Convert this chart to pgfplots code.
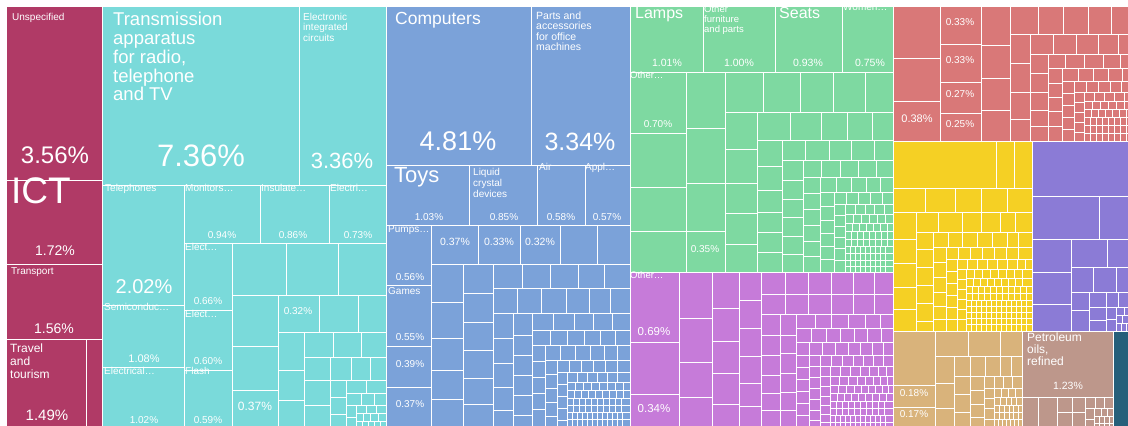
\documentclass[border=0pt]{standalone}
\usepackage{fontspec}
\setmainfont{Liberation Sans}
\usepackage{pgfplots}
\pgfplotsset{compat=1.18}

\definecolor{mar}{HTML}{B03A66}
\definecolor{cya}{HTML}{7ADADA}
\definecolor{blu}{HTML}{7BA2D9}
\definecolor{grn}{HTML}{7ED9A1}
\definecolor{mag}{HTML}{C67BD9}
\definecolor{sal}{HTML}{D97878}
\definecolor{yel}{HTML}{F5D024}
\definecolor{vio}{HTML}{8B7BD6}
\definecolor{tanc}{HTML}{D9B37B}
\definecolor{ros}{HTML}{BD978B}
\definecolor{dtl}{HTML}{265F7A}

% a row of cells between y0 and y1, split at the listed x values
\newcommand\Row[4]{\foreach \cx [remember=\cx as \cpx (initially #3)] in {#4}{%
  \edef\tmp{\noexpand\addplot[cell=\cc] coordinates {(\cpx,#1) (\cx,#1) (\cx,#2) (\cpx,#2)} -- cycle;}\tmp}}
% a column of cells between x0 and x1, split at the listed y values
\newcommand\Col[4]{\foreach \cy [remember=\cy as \cpy (initially #3)] in {#4}{%
  \edef\tmp{\noexpand\addplot[cell=\cc] coordinates {(#1,\cpy) (#2,\cpy) (#2,\cy) (#1,\cy)} -- cycle;}\tmp}}
\newcommand\Lab[4]{\node[anchor=base west, text=white, inner sep=0pt, font=\fontsize{#3}{#3}\selectfont] at (axis cs:#1,#2) {#4};}
\newcommand\Pct[4]{\node[anchor=base, text=white, inner sep=0pt, font=\fontsize{#3}{#3}\selectfont] at (axis cs:#1,#2) {#4};}

\begin{document}
\begin{tikzpicture}[cell/.style={fill=#1, draw=white, line width=1pt}]
\begin{axis}[x=1pt, y=1pt, xmin=0, xmax=1128, ymin=0, ymax=426,
  y dir=reverse, hide axis, clip=true]
\addplot[fill=white, draw=none] coordinates {(0,0) (1128,0) (1128,426) (0,426)} -- cycle;

% services
\def\cc{mar}
\Col{6}{102}{6}{180,264,339}
\Row{339}{430}{6}{86,102}

% electronics
\def\cc{cya}
\Row{6}{185}{102}{299,386}
\Col{102}{184}{185}{305,367,430}
\Row{185}{243}{184}{260,329,386}
\Col{184}{232}{243}{310,370,430}
\Row{243}{295}{232}{286,338,386}
\Col{232}{278}{295}{346,390,430}
\Row{295}{332}{278}{319,358,386}
\Col{278}{304}{332}{370,400,430}
\Row{332}{357}{304}{333,361,386}
\Row{357}{380}{304}{330,351,370,386}
\Col{304}{330}{380}{405,430}
\Col{330}{346}{380}{397,414,430}
\Row{380}{393}{346}{366,386}
\Row{393}{405}{346}{361,374,386}
\Col{346}{356}{405}{417,430}
\Row{405}{413}{356}{366,376,386}
\Row{413}{421}{356}{363,370,378,386}
\Row{421}{430}{356}{362,368,374,380,386}

% machines
\def\cc{blu}
\Row{6}{165}{386}{531,630}
\Row{165}{225}{386}{469,537,585,630}
\Col{386}{431}{225}{285,346,387,430}
\Row{225}{264}{431}{478,520,560,597,630}
\Col{431}{463}{264}{302,338,370,399,430}
\Col{463}{493}{264}{293,322,350,378,404,430}
\Row{264}{288}{493}{522,550,578,604,630}
\Row{288}{313}{493}{517,541,566,589,610,630}
\Col{493}{513}{313}{338,363,387,410,430}
\Col{513}{532}{313}{335,355,375,395,415,430}
\Row{313}{330}{532}{553,574,593,612,630}
\Row{330}{345}{532}{550,567,584,600,615,630}
\Col{532}{545}{345}{361,377,393,409,430}
\Row{345}{360}{545}{560,575,590,604,617,630}
\Col{545}{557}{360}{374,388,402,416,430}
\Row{360}{372}{557}{569,581,593,605,617,630}
\Col{557}{567}{372}{384,396,408,420,430}
\Row{372}{382}{567}{577,587,597,607,617,630}
\Row{382}{390}{567}{575,583,591,599,607,615,623,630}
\Row{390}{398}{567}{574,581,588,595,602,609,616,623,630}
\Row{398}{405}{567}{573,579,585,591,597,603,609,615,621,630}
\Row{405}{412}{567}{573,579,585,591,597,603,609,615,621,630}
\Row{412}{419}{567}{572,577,582,587,592,597,602,607,612,617,622,630}
\Row{419}{430}{567}{572,577,582,587,592,597,602,607,612,617,622,630}

% furniture
\def\cc{grn}
\Row{6}{72}{630}{703,775,842,893}
\Col{630}{686}{72}{133,187,231,272}
\Col{686}{725}{72}{128,183,231,272}
\Row{72}{112}{725}{763,800,833,865,893}
\Col{725}{757}{112}{149,183,213,244,272}
\Row{112}{140}{757}{790,821,847,872,893}
\Col{757}{782}{140}{166,190,212,232,252,272}
\Row{140}{160}{782}{805,829,851,874,893}
\Col{782}{803}{160}{180,199,217,236,254,272}
\Row{160}{177}{803}{821,840,858,876,893}
\Col{803}{820}{177}{193,209,225,241,256,272}
\Row{177}{192}{820}{836,851,866,880,893}
\Col{820}{834}{192}{206,220,233,246,259,272}
\Row{192}{204}{834}{846,858,870,882,893}
\Col{834}{845}{204}{215,226,237,248,260,272}
\Row{204}{214}{845}{855,865,874,884,893}
\Row{214}{223}{845}{853,861,869,877,885,893}
\Row{223}{231}{845}{852,859,866,873,880,887,893}
\Row{231}{239}{845}{851,857,863,869,875,881,887,893}
\Row{239}{246}{845}{851,857,863,869,875,881,887,893}
\Row{246}{253}{845}{850,855,860,865,870,875,880,885,893}
\Row{253}{260}{845}{850,855,860,865,870,875,880,885,893}
\Row{260}{266}{845}{850,855,860,865,870,875,880,885,893}
\Row{266}{272}{845}{850,855,860,865,870,875,880,885,893}

% textiles
\def\cc{mag}
\Col{630}{679}{272}{342,394,430}
\Col{679}{712}{272}{318,362,397,430}
\Col{712}{739}{272}{308,341,373,404,430}
\Col{739}{761}{272}{300,328,356,383,406,430}
\Row{272}{294}{761}{785,808,831,853,874,893}
\Row{294}{314}{761}{785,808,831,853,874,893}
\Col{761}{780}{314}{335,355,375,393,410,430}
\Col{780}{796}{314}{335,353,373,392,410,430}
\Row{314}{328}{796}{815,831,848,865,880,893}
\Row{328}{342}{796}{811,826,840,854,867,881,893}
\Row{342}{355}{796}{809,822,835,848,860,872,883,893}
\Col{796}{809}{355}{367,379,391,403,415,430}
\Row{355}{366}{809}{820,831,842,853,863,873,883,893}
\Col{809}{820}{366}{377,388,399,410,420,430}
\Row{366}{376}{820}{830,840,850,860,869,878,886,893}
\Col{820}{830}{376}{386,396,405,414,422,430}
\Row{376}{385}{830}{839,848,857,865,873,880,887,893}
\Row{385}{393}{830}{838,846,854,861,868,875,882,888,893}
\Row{393}{401}{830}{837,844,851,858,865,872,879,886,893}
\Row{401}{408}{830}{836,842,848,854,860,866,872,878,884,893}
\Row{408}{415}{830}{836,842,848,854,860,866,872,878,884,893}
\Row{415}{422}{830}{835,840,845,850,855,860,865,870,875,880,885,893}
\Row{422}{430}{830}{835,840,845,850,855,860,865,870,875,880,885,893}

% vegetable products
\def\cc{sal}
\Col{893}{940}{6}{58,101,141}
\Col{940}{981}{6}{44,82,113,141}
\Col{981}{1010}{6}{45,78,110,141}
\Row{6}{34}{1010}{1038,1063,1088,1111,1135}
\Col{1010}{1030}{34}{63,92,119,141}
\Row{34}{54}{1030}{1053,1076,1098,1118,1135}
\Col{1030}{1048}{54}{73,92,110,126,141}
\Row{54}{68}{1048}{1065,1084,1103,1120,1135}
\Col{1048}{1062}{68}{83,97,111,126,141}
\Row{68}{81}{1062}{1078,1093,1108,1122,1135}
\Col{1062}{1074}{81}{93,105,117,129,141}
\Row{81}{92}{1074}{1086,1098,1110,1121,1135}
\Col{1074}{1084}{92}{102,112,122,132,141}
\Row{92}{101}{1084}{1094,1104,1114,1124,1135}
\Row{101}{109}{1084}{1092,1100,1108,1116,1124,1135}
\Row{109}{117}{1084}{1091,1098,1105,1112,1119,1126,1135}
\Row{117}{125}{1084}{1090,1096,1102,1108,1114,1120,1126,1135}
\Row{125}{133}{1084}{1090,1096,1102,1108,1114,1120,1126,1135}
\Row{133}{141}{1084}{1090,1096,1102,1108,1114,1120,1126,1135}

% metals
\def\cc{yel}
\Row{141}{188}{893}{996,1014,1032}
\Row{188}{212}{893}{925,955,981,1007,1032}
\Col{893}{916}{212}{239,263,287,309,331}
\Row{212}{232}{916}{938,962,981,1000,1015,1032}
\Col{916}{933}{232}{249,267,285,303,321,331}
\Row{232}{247}{933}{948,962,977,992,1007,1018,1032}
\Col{933}{946}{247}{262,277,292,306,319,331}
\Row{247}{259}{946}{958,970,982,994,1006,1018,1032}
\Col{946}{957}{259}{271,283,295,307,319,331}
\Row{259}{269}{957}{967,977,987,997,1007,1017,1025,1032}
\Col{957}{966}{269}{279,289,299,309,319,331}
\Row{269}{278}{966}{974,982,990,998,1006,1014,1022,1032}
\Row{278}{286}{966}{973,980,987,994,1001,1008,1015,1022,1032}
\Row{286}{293}{966}{972,978,984,990,996,1002,1008,1014,1020,1026,1032}
\Row{293}{300}{966}{972,978,984,990,996,1002,1008,1014,1020,1026,1032}
\Row{300}{306}{966}{971,976,981,986,991,996,1001,1006,1011,1016,1021,1026,1032}
\Row{306}{312}{966}{971,976,981,986,991,996,1001,1006,1011,1016,1021,1026,1032}
\Row{312}{318}{966}{971,976,981,986,991,996,1001,1006,1011,1016,1021,1026,1032}
\Row{318}{324}{966}{971,976,981,986,991,996,1001,1006,1011,1016,1021,1026,1032}
\Row{324}{331}{966}{971,976,981,986,991,996,1001,1006,1011,1016,1021,1026,1032}

% chemicals
\def\cc{vio}
\Row{141}{196}{1032}{1135}
\Row{196}{239}{1032}{1099,1135}
\Col{1032}{1071}{239}{272,304,331}
\Row{239}{267}{1071}{1107,1135}
\Row{267}{292}{1071}{1093,1116,1135}
\Col{1071}{1089}{292}{310,331}
\Col{1089}{1106}{292}{307,320,331}
\Row{292}{307}{1106}{1118,1135}
\Col{1106}{1116}{307}{319,331}
\Row{307}{315}{1116}{1124,1135}
\Row{315}{323}{1116}{1122,1128,1135}
\Row{323}{331}{1116}{1121,1126,1131,1135}

% animal and food products
\def\cc{tanc}
\Col{893}{935}{331}{385,407,430}
\Row{331}{356}{935}{968,1000,1022}
\Col{935}{954}{356}{383,408,430}
\Row{356}{376}{954}{970,985,1000,1011,1022}
\Col{954}{970}{376}{394,412,430}
\Col{970}{984}{376}{390,404,417,430}
\Row{376}{388}{984}{994,1003,1012,1022}
\Col{984}{994}{388}{398,408,419,430}
\Row{388}{397}{994}{1001,1008,1015,1022}
\Row{397}{405}{994}{1000,1006,1011,1016,1022}
\Row{405}{412}{994}{999,1004,1009,1013,1018,1022}
\Row{412}{419}{994}{999,1004,1009,1013,1018,1022}
\Row{419}{430}{994}{998,1002,1006,1010,1014,1018,1022}

% minerals
\def\cc{ros}
\Row{331}{397}{1022}{1113}
\Row{397}{430}{1022}{1038,1057}
\Col{1057}{1072}{397}{412,430}
\Col{1072}{1085}{397}{412,430}
\Row{397}{408}{1085}{1095,1104,1113}
\Col{1085}{1094}{408}{419,430}
\Row{408}{416}{1094}{1101,1107,1113}
\Row{416}{423}{1094}{1099,1104,1109,1113}
\Row{423}{430}{1094}{1099,1104,1109,1113}

\def\cc{dtl}
\Row{331}{430}{1113}{1135}

% labels
\Lab{12}{20}{10}{Unspecified}
\Pct{55}{163}{24}{3.56\%}
\Lab{11}{203}{37}{ICT}
\Pct{55}{255}{14}{1.72\%}
\Lab{11}{274}{10}{Transport}
\Pct{54}{333}{14}{1.56\%}
\Lab{10}{352}{12}{Travel}
\Lab{10}{365}{12}{and}
\Lab{10}{378}{12}{tourism}
\Pct{47}{420}{15}{1.49\%}

\Lab{113}{25}{18.5}{Transmission}
\Lab{113}{44}{18.5}{apparatus}
\Lab{113}{63}{18.5}{for radio,}
\Lab{113}{82}{18.5}{telephone}
\Lab{113}{100}{18.5}{and TV}
\Pct{201}{166}{31}{7.36\%}
\Lab{303}{20}{10}{Electronic}
\Lab{303}{30}{10}{integrated}
\Lab{303}{41}{10}{circuits}
\Pct{342}{168}{22}{3.36\%}
\Lab{105}{191}{10}{Telephones}
\Lab{185}{191}{10}{Monitors…}
\Lab{261}{191}{10}{Insulate…}
\Lab{330}{191}{10}{Electri…}
\Pct{222}{238}{10}{0.94\%}
\Pct{293}{238}{10}{0.86\%}
\Pct{358}{238}{10}{0.73\%}
\Pct{144}{293}{20}{2.02\%}
\Lab{104}{310}{10}{Semiconduc…}
\Pct{144}{362}{11}{1.08\%}
\Lab{104}{374}{10}{Electrical…}
\Pct{144}{423}{10}{1.02\%}
\Lab{185}{250}{10}{Elect…}
\Pct{208}{304}{10}{0.66\%}
\Lab{185}{317}{10}{Elect…}
\Pct{208}{364}{10}{0.60\%}
\Lab{185}{374}{10}{Flash}
\Pct{208}{423}{10}{0.59\%}
\Pct{255}{410}{12}{0.37\%}
\Pct{298}{314}{10}{0.32\%}

\Lab{395}{24}{17.5}{Computers}
\Pct{458}{150}{27}{4.81\%}
\Lab{536}{19}{10.5}{Parts and}
\Lab{536}{29}{10.5}{accessories}
\Lab{536}{40}{10.5}{for office}
\Lab{536}{50}{10.5}{machines}
\Pct{580}{150}{25}{3.34\%}
\Lab{394}{182}{22}{Toys}
\Lab{473}{175}{10}{Liquid}
\Lab{473}{186}{10}{crystal}
\Lab{473}{197}{10}{devices}
\Lab{539}{170}{10}{Air}
\Lab{585}{170}{10}{Appl…}
\Pct{429}{220}{10}{1.03\%}
\Pct{504}{220}{10}{0.85\%}
\Pct{561}{220}{10}{0.58\%}
\Pct{607}{220}{10}{0.57\%}
\Lab{388}{232}{10}{Pumps…}
\Pct{410}{280}{10}{0.56\%}
\Lab{388}{294}{10}{Games}
\Pct{410}{340}{10}{0.55\%}
\Pct{410}{367}{10}{0.39\%}
\Pct{410}{407}{10}{0.37\%}
\Pct{455}{245}{10.5}{0.37\%}
\Pct{499}{245}{10.5}{0.33\%}
\Pct{540}{245}{10.5}{0.32\%}

\Lab{635}{18}{16}{Lamps}
\Lab{704}{12}{9.5}{Other}
\Lab{704}{22}{9.5}{furniture}
\Lab{704}{32}{9.5}{and parts}
\Lab{779}{18}{16}{Seats}
\Lab{843}{10}{10}{Women…}
\Pct{667}{66}{10.5}{1.01\%}
\Pct{739}{66}{10.5}{1.00\%}
\Pct{808}{66}{10.5}{0.93\%}
\Pct{870}{66}{10.5}{0.75\%}
\Lab{630}{78}{9.5}{Other…}
\Pct{658}{127}{10}{0.70\%}
\Pct{705}{252}{10}{0.35\%}

\Lab{630}{278}{9.5}{Other…}
\Pct{654}{335}{11.5}{0.69\%}
\Pct{654}{412}{11.5}{0.34\%}

\Pct{960}{25}{10}{0.33\%}
\Pct{960}{63}{10}{0.33\%}
\Pct{960}{97}{10}{0.27\%}
\Pct{960}{127}{10}{0.25\%}
\Pct{917}{122}{11}{0.38\%}

\Pct{914}{396}{10}{0.18\%}
\Pct{914}{417}{10}{0.17\%}

\Lab{1027}{341}{12}{Petroleum}
\Lab{1027}{353}{12}{oils,}
\Lab{1027}{365}{12}{refined}
\Pct{1068}{389}{10.5}{1.23\%}
\end{axis}
\end{tikzpicture}
\end{document}
